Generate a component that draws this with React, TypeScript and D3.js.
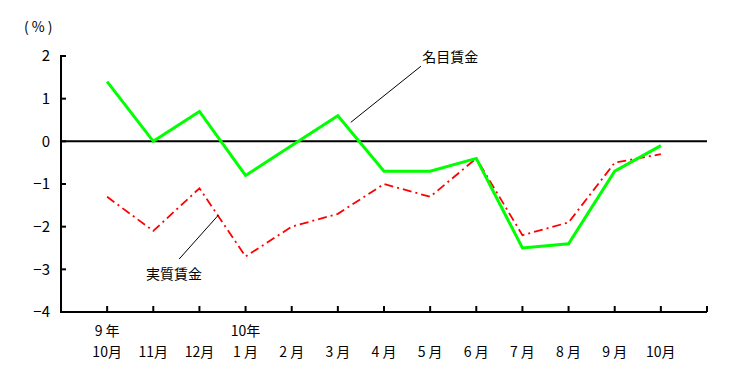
import React from "react";
import * as d3 from "d3";

const categoriesTop = ["9 年", "", "", "10年", "", "", "", "", "", "", "", "", ""];
const categoriesBottom = ["10月", "11月", "12月", "1 月", "2 月", "3 月", "4 月", "5 月", "6 月", "7 月", "8 月", "9 月", "10月"];
const nominalWages = [1.4, 0.0, 0.7, -0.8, -0.1, 0.6, -0.7, -0.7, -0.4, -2.5, -2.4, -0.7, -0.1];
const realWages = [-1.3, -2.1, -1.1, -2.7, -2.0, -1.7, -1.0, -1.3, -0.4, -2.2, -1.9, -0.5, -0.3];
const yTicks = [2, 1, 0, -1, -2, -3, -4];

const W = 744;
const H = 381;
const FONT = "'Noto Sans CJK JP', 'DejaVu Sans', sans-serif";

export default function App() {
  const x = d3.scaleLinear().domain([0, 14]).range([61, 707]);
  const y = d3.scaleLinear().domain([-4, 2]).range([312, 56]);
  const line = d3
    .line<number>()
    .x((_, i) => x(i + 1))
    .y((d) => y(d));

  const fmt = (v: number) => (v < 0 ? "\u2212" + Math.abs(v) : String(v));

  return (
    <svg width={W} height={H} style={{ position: "absolute", left: 0, top: 0, background: "#fff" }} fontFamily={FONT}>
      <text x={24} y={32} fontSize={14} fill="#000" letterSpacing={3}>(%)</text>
      {/* y ticks */}
      {yTicks.map((t) => (
        <g key={t}>
          <line x1={x(0)} x2={x(0) + 5} y1={y(t)} y2={y(t)} stroke="#000" strokeWidth={2} />
          <text x={50} y={y(t)} dy="0.36em" textAnchor="end" fontSize={15} fill="#000">
            {fmt(t)}
          </text>
        </g>
      ))}
      {/* x ticks */}
      {d3.range(1, 15).map((k) => (
        <line key={k} x1={x(k)} x2={x(k)} y1={y(-4)} y2={y(-4) - 6} stroke="#000" strokeWidth={2} />
      ))}
      {/* axes */}
      <line x1={x(0)} x2={x(0)} y1={y(2) - 1} y2={y(-4) + 1} stroke="#000" strokeWidth={2} />
      <line x1={x(0)} x2={x(14)} y1={y(-4)} y2={y(-4)} stroke="#000" strokeWidth={2} />
      <line x1={x(0)} x2={x(14)} y1={y(0)} y2={y(0)} stroke="#000" strokeWidth={2} />
      {/* x labels */}
      {categoriesBottom.map((c, i) => (
        <g key={i}>
          {categoriesTop[i] && (
            <text x={x(i + 1)} y={336} textAnchor="middle" fontSize={14} fill="#000">
              {categoriesTop[i]}
            </text>
          )}
          <text x={x(i + 1)} y={357} textAnchor="middle" fontSize={14} fill="#000">
            {c}
          </text>
        </g>
      ))}
      {/* series */}
      <path d={line(realWages) || ""} fill="none" stroke="#ff0000" strokeWidth={1.8} strokeDasharray="9,4,2,4" />
      <path d={line(nominalWages) || ""} fill="none" stroke="#00ff00" strokeWidth={3} strokeLinejoin="miter" />
      {/* annotations */}
      <line x1={x(6.28)} y1={y(0.445)} x2={x(7.8)} y2={y(1.76)} stroke="#000" strokeWidth={1} />
      <text x={x(7.83)} y={y(1.98)} dy="0.35em" fontSize={14} fill="#000">名目賃金</text>
      <line x1={x(2.56)} y1={y(-2.76)} x2={x(3.41)} y2={y(-1.73)} stroke="#000" strokeWidth={1} />
      <text x={x(1.84)} y={y(-3.12)} dy="0.35em" fontSize={14} fill="#000">実質賃金</text>
    </svg>
  );
}
